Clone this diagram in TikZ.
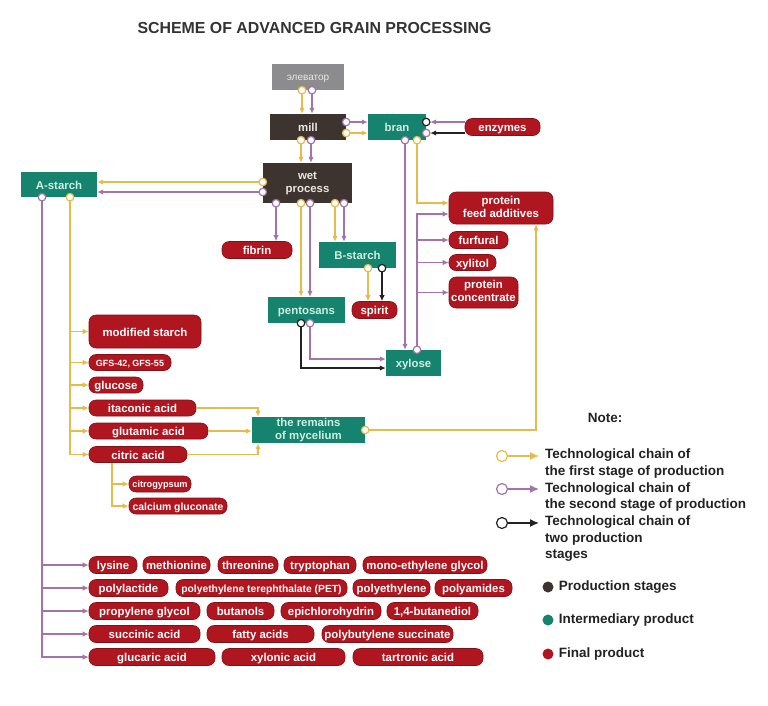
\documentclass[tikz,border=0pt]{standalone}
\usepackage{fontspec}
\setmainfont{Liberation Sans}
\usetikzlibrary{arrows.meta,positioning}
\definecolor{cbrown}{HTML}{3E342F}
\definecolor{cteal}{HTML}{16836F}
\definecolor{cred}{HTML}{B0161F}
\definecolor{cgray}{HTML}{8C8C8E}
\definecolor{cyel}{HTML}{E5BB4B}
\definecolor{cpur}{HTML}{A274A9}
\definecolor{cblk}{HTML}{222222}
\definecolor{ctxtb}{HTML}{EAE6E2}
\definecolor{ctxtt}{HTML}{CFEEE2}
\definecolor{ctitle}{HTML}{333333}
\newcommand\fsz[1]{\fontsize{#1}{13}\selectfont}
\newcommand\twol[2]{\begin{tabular}{@{}c@{}}#1\\#2\end{tabular}}

\begin{document}
\begin{tikzpicture}[x=1pt, y=-1pt,
  sz/.style 2 args={minimum width=#1, minimum height=#2},
  box/.style={inner sep=0pt, text height=9.5pt, text depth=0.5pt, font=\bfseries\fsz{11.4}},
  two/.style={text height=, text depth=},
  stage/.style={box, fill=cbrown, text=ctxtb},
  inter/.style={box, fill=cteal, text=ctxtt},
  final/.style={box, fill=cred, draw=cred!75!black, line width=0.6pt, rounded corners=7pt, text=white},
  dot/.style={circle, draw, fill=white, line width=1.2pt, inner sep=0pt, minimum size=7.5pt},
  chain/.style={line width=1.4pt, -{Latex[length=6pt,width=5.5pt]}},
  ychain/.style={chain, color=cyel},
  pchain/.style={chain, color=cpur},
  kchain/.style={chain, color=cblk, line width=1.2pt},
  legend/.style={inner sep=0pt, align=left, text=cblk, font=\bfseries\fontsize{13.5}{16.5}\selectfont},
  ]
  \fill[white] (0,0) rectangle (768,705);
  \useasboundingbox (0,0) rectangle (768,705);

  \node (title) [font=\bfseries\fontsize{15.9}{18}\selectfont, text=ctitle] at (314.5,28) {SCHEME OF ADVANCED GRAIN PROCESSING};

  % stages
  \node (elev) [box, text height=7pt, text depth=1pt, font=\fsz{10}, fill=cgray, text=ctxtb, sz={72}{26}] at (308,77) {элеватор};
  \node (mill) [stage, sz={76}{26}] at (308,127) {mill};
  \node (wet) [stage, two, sz={89}{40}] at (307.5,183) {\twol{wet}{process}};

  % intermediary products
  \node (bran) [inter, sz={58}{26}] at (397,127) {bran};
  \node (astarch) [inter, sz={76}{25}] at (59,184.5) {A-starch};
  \node (bstarch) [inter, sz={77}{26}] at (357.5,255) {B-starch};
  \node (pent) [inter, sz={77}{26}] at (306.5,310) {pentosans};
  \node (xylose) [inter, sz={55}{26}] at (413.5,363) {xylose};
  \node (rem) [inter, two, sz={113}{26}] at (308.5,430) {\twol{the remains}{of mycelium}};

  % final products
  \node (enz) [final, sz={75}{17}] at (502.5,127) {enzymes};
  \node (fibrin) [final, sz={70}{17}] at (257,250) {fibrin};
  \node (spirit) [final, sz={45}{17}] at (374.5,310) {spirit};
  \node (pfa) [final, two, sz={104}{32}] at (501,208) {\twol{protein}{feed additives}};
  \node (furf) [final, sz={59}{17}] at (478.5,240) {furfural};
  \node (xylit) [final, sz={47}{16}] at (472.5,262.5) {xylitol};
  \node (pconc) [final, two, sz={69}{31}] at (483.5,292.5) {\twol{protein}{concentrate}};
  \node (modst) [final, sz={112}{33}] at (145,331.5) {modified starch};
  \node (gfs) [final, sz={82}{16}, text height=8pt, font=\bfseries\fsz{9}] at (130,362.5) {GFS-42, GFS-55};
  \node (gluc) [final, sz={54}{16}] at (116,385) {glucose};
  \node (itac) [final, sz={107}{16}] at (142.5,408) {itaconic acid};
  \node (glut) [final, sz={119}{16}] at (148.5,431) {glutamic acid};
  \node (citr) [final, sz={98}{16}] at (138,454.5) {citric acid};
  \node (cgyp) [final, sz={62}{16}, text height=8pt, font=\bfseries\fsz{9.2}] at (160,484) {citrogypsum};
  \node (cglu) [final, sz={98}{16}, text height=8.7pt, font=\bfseries\fsz{10.4}] at (178,506) {calcium gluconate};

  % rows of final products from A-starch
  \node (lys) [final, sz={48}{17}] at (113,565) {lysine};
  \node (meth) [final, sz={67}{17}] at (176.5,565) {methionine};
  \node (thr) [final, sz={60}{17}] at (248,565) {threonine};
  \node (trp) [final, sz={72}{17}] at (320,565) {tryptophan};
  \node (meg) [final, sz={124}{17}] at (425,565) {mono-ethylene glycol};
  \node (pla) [final, sz={79}{17}] at (128.5,588) {polylactide};
  \node (pet) [final, sz={171}{17}, text height=8.8pt, font=\bfseries\fsz{10.3}] at (261.5,588) {polyethylene terephthalate (PET)};
  \node (pe) [final, sz={77}{17}] at (391.5,588) {polyethylene};
  \node (pa) [final, sz={77}{17}] at (473.5,588) {polyamides};
  \node (pg) [final, sz={111}{17}] at (144.5,611) {propylene glycol};
  \node (but) [final, sz={67}{17}] at (240.5,611) {butanols};
  \node (epi) [final, sz={100}{17}] at (331,611) {epichlorohydrin};
  \node (bdo) [final, sz={91}{17}] at (432.5,611) {1,4-butanediol};
  \node (suc) [final, sz={111}{17}] at (144.5,634) {succinic acid};
  \node (fat) [final, sz={107}{17}] at (260.5,634) {fatty acids};
  \node (pbs) [final, sz={131}{17}] at (387.5,634) {polybutylene succinate};
  \node (glar) [final, sz={126}{17}] at (152,657) {glucaric acid};
  \node (xyla) [final, sz={123}{17}] at (283.5,657) {xylonic acid};
  \node (tart) [final, sz={130}{17}] at (418,657) {tartronic acid};

  % chains at the top
  \draw[ychain] (elev.south -| 302,0) node[dot]{} -- (mill.north -| 302,0);
  \draw[pchain] (elev.south -| 312,0) node[dot]{} -- (mill.north -| 312,0);
  \draw[ychain] (mill.south -| 301,0) node[dot]{} -- (wet.north -| 301,0);
  \draw[pchain] (mill.south -| 311,0) node[dot]{} -- (wet.north -| 311,0);
  \draw[pchain] (mill.east |- 0,122) node[dot]{} -- (bran.west |- 0,122);
  \draw[ychain] (mill.east |- 0,133) node[dot]{} -- (bran.west |- 0,133);
  \draw[pchain, shorten >=4pt] (enz.west |- 0,122) -- (bran.east |- 0,122) node[dot, draw=cblk]{};
  \draw[kchain, shorten >=4pt] (enz.west |- 0,133) -- (bran.east |- 0,133) node[dot, draw=cpur]{};

  % bran
  \draw[ychain] (bran.south -| 417,0) node[dot]{} |- (pfa.west |- 0,203);
  \draw[pchain] (bran.south -| 405,0) node[dot]{} -- (xylose.north -| 405,0);

  % xylose
  \draw[pchain] (xylose.north -| 417,0) node[dot]{} |- (pfa.west |- 0,214);
  \draw[pchain] (furf.west -| 417,0) -- (furf.west);
  \draw[pchain] (xylit.west -| 417,0) -- (xylit.west);
  \draw[pchain] (pconc.west -| 417,0) -- (pconc.west);

  % wet process
  \draw[ychain] (wet.west |- 0,182) node[dot]{} -- (astarch.east |- 0,182);
  \draw[pchain] (wet.west |- 0,192) node[dot]{} -- (astarch.east |- 0,192);
  \draw[pchain] (wet.south -| 276,0) node[dot]{} -- (fibrin.north -| 276,0);
  \draw[ychain] (wet.south -| 301,0) node[dot]{} -- (pent.north -| 301,0);
  \draw[pchain] (wet.south -| 310,0) node[dot]{} -- (pent.north -| 310,0);
  \draw[ychain] (wet.south -| 335,0) node[dot]{} -- (bstarch.north -| 335,0);
  \draw[pchain] (wet.south -| 344,0) node[dot]{} -- (bstarch.north -| 344,0);

  % B-starch and pentosans
  \draw[ychain] (bstarch.south -| 368,0) node[dot]{} -- (spirit.north -| 368,0);
  \draw[kchain] (bstarch.south -| 382,0) node[dot]{} -- (spirit.north -| 382,0);
  \draw[kchain] (pent.south -| 301,0) node[dot]{} |- (xylose.west |- 0,368);
  \draw[pchain] (pent.south -| 310,0) node[dot]{} |- (xylose.west |- 0,359);

  % A-starch, first stage
  \draw[ychain] (astarch.south -| 70,0) node[dot]{} |- (citr.west);
  \draw[ychain] (modst.west -| 70,0) -- (modst.west);
  \draw[ychain] (gfs.west -| 70,0) -- (gfs.west);
  \draw[ychain] (gluc.west -| 70,0) -- (gluc.west);
  \draw[ychain] (itac.west -| 70,0) -- (itac.west);
  \draw[ychain] (glut.west -| 70,0) -- (glut.west);
  \draw[ychain] (citr.south -| 112,0) |- (cglu.west);
  \draw[ychain] (cgyp.west -| 112,0) -- (cgyp.west);
  \draw[ychain] (itac.east) -| (rem.north -| 258,0);
  \draw[ychain] (glut.east) -- (glut.east -| rem.west);
  \draw[ychain] (citr.east) -| (rem.south -| 258,0);
  \draw[ychain] (rem.east) node[dot]{} -| (pfa.south -| 536,0);

  % A-starch, second stage
  \draw[pchain] (astarch.south -| 42,0) node[dot]{} |- (glar.west);
  \draw[pchain] (lys.west -| 42,0) -- (lys.west);
  \draw[pchain] (pla.west -| 42,0) -- (pla.west);
  \draw[pchain] (pg.west -| 42,0) -- (pg.west);
  \draw[pchain] (suc.west -| 42,0) -- (suc.west);

  % note
  \node (note) [legend] at (605,418) {Note:};
  \node (lg1) [legend, anchor=north west] at (545,449) {Technological chain of\\the first stage of production};
  \node (lg2) [legend, anchor=north west] at (545,482.5) {Technological chain of\\the second stage of production};
  \node (lg3) [legend, anchor=north west] at (545,516) {Technological chain of\\two production\\stages};
  \coordinate (l1a) at (502,456); \coordinate (l1b) at (539,456);
  \coordinate (l2a) at (502,489); \coordinate (l2b) at (539,489);
  \coordinate (l3a) at (502,523); \coordinate (l3b) at (539,523);
  \draw[ychain, -{Latex[length=9pt,width=8pt]}] (l1a) node[dot, minimum size=11pt]{} -- (l1b);
  \draw[pchain, -{Latex[length=9pt,width=8pt]}] (l2a) node[dot, minimum size=11pt]{} -- (l2b);
  \draw[kchain, line width=1.4pt, -{Latex[length=9pt,width=8pt]}] (l3a) node[dot, minimum size=11pt]{} -- (l3b);
  \node (ds) [circle, fill=cbrown, inner sep=0pt, minimum size=11pt] at (548,587) {};
  \node (di) [circle, fill=cteal, inner sep=0pt, minimum size=11pt] at (548,620) {};
  \node (df) [circle, fill=cred, inner sep=0pt, minimum size=11pt] at (548,654) {};
  \node [legend, right=5pt of ds] {Production stages};
  \node [legend, right=5pt of di] {Intermediary product};
  \node [legend, right=5pt of df] {Final product};
\end{tikzpicture}
\end{document}
